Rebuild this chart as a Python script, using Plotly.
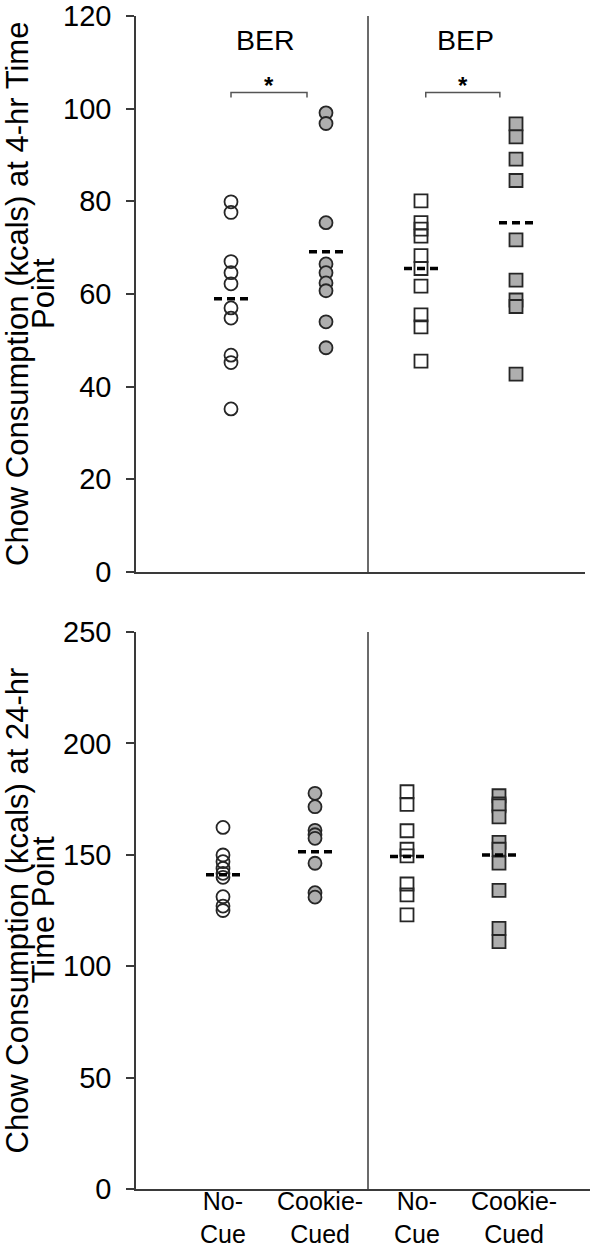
import plotly.graph_objects as go

# ---------------- data ----------------
categories = ["No-<br>Cue", "Cookie-<br>Cued", "No-<br>Cue", "Cookie-<br>Cued"]
group_labels = ["BER", "BEP"]
cat_pos = [1, 2, 3, 4]
title_4h = ["Chow Consumption (kcals) at 4-hr Time", "Point"]
title_24h = ["Chow Consumption (kcals) at 24-hr", "Time Point"]

# 4-hr time point (kcals)
ber_nocue_4h = [79.9, 77.6, 67.0, 64.6, 62.2, 57.0, 54.8, 46.8, 45.2, 35.2]
ber_cue_4h = [99.1, 96.8, 75.4, 66.5, 64.6, 62.4, 60.7, 54.0, 48.4]
bep_nocue_4h = [80.1, 75.4, 74.0, 72.5, 68.3, 65.5, 61.7, 55.5, 52.9, 45.5]
bep_cue_4h = [96.7, 93.9, 89.1, 84.5, 71.7, 63.0, 58.7, 57.3, 42.7]
means_4h = [59.0, 69.1, 65.5, 75.4]

# 24-hr time point (kcals)
ber_nocue_24h = [162.3, 149.9, 146.9, 143.9, 141.7, 139.9, 131.2, 127.0, 125.0]
ber_cue_24h = [177.6, 171.6, 161.0, 159.0, 157.4, 146.2, 133.0, 131.0]
bep_nocue_24h = [178.3, 172.6, 160.8, 152.5, 149.5, 136.9, 132.0, 123.0]
bep_cue_24h = [176.5, 172.8, 172.0, 167.0, 155.6, 152.5, 146.3, 134.0, 117.0, 111.0]
means_24h = [141.0, 151.4, 149.2, 149.9]

# significance brackets (4-hr panel)
sig_pairs = [(1.0, 1.8), (3.05, 3.83)]
sig_level = 103.5
sig_tick = 1.1

# ---------------- style / geometry (pixels) ----------------
W, H = 613, 1251
ML, MR, MT, MB = 136, 23, 16, 62
FONT = "Liberation Sans, Arial, sans-serif"
AX = "#3a3a3a"
WHITE = "rgba(255,255,255,0)"
GRAY = "rgb(174,174,174)"
EDGE = "#262626"

plot_w = W - ML - MR
plot_h = H - MT - MB
y_top0, y_bot0, y_bot250 = 572, 1189, 632
top_dom = [(y_bot0 - y_top0) / plot_h, 1.0]
bot_dom = [0.0, (y_bot0 - y_bot250) / plot_h]

top_end_px = 585
top_xdom = [0, (top_end_px - ML) / plot_w]
x_top = [0.0, (top_end_px - ML) / 95]
x_bot = [(ML - 131) / 92, (ML + plot_w - 131) / 92]
x_lab = [(ML - 126) / 97, (ML + plot_w - 126) / 97]
top_ppu = 95
bot_ppu = 92
dash_half_px = 17

fig = go.Figure()

series_4h = [ber_nocue_4h, ber_cue_4h, bep_nocue_4h, bep_cue_4h]
series_24h = [ber_nocue_24h, ber_cue_24h, bep_nocue_24h, bep_cue_24h]
symbols = ["circle", "circle", "square", "square"]
fills = [WHITE, GRAY, WHITE, GRAY]


def add_panel(series, means, xa, ya, ppu):
    for pos, vals, sym, fc in zip(cat_pos, series, symbols, fills):
        fig.add_trace(go.Scatter(
            x=[pos] * len(vals), y=vals, mode="markers", xaxis=xa, yaxis=ya,
            marker=dict(symbol=sym, size=13, color=fc,
                        line=dict(color=EDGE, width=1.8)),
            showlegend=False, hoverinfo="y"))
    half = dash_half_px / ppu
    for pos, m in zip(cat_pos, means):
        fig.add_trace(go.Scatter(
            x=[pos - half, pos + half], y=[m, m], mode="lines",
            xaxis=xa, yaxis=ya,
            line=dict(color="black", width=3.5, dash="8px,5px"),
            showlegend=False, hoverinfo="skip"))


add_panel(series_4h, means_4h, "x", "y", top_ppu)
add_panel(series_24h, means_24h, "x2", "y2", bot_ppu)

# significance brackets
for a, b in sig_pairs:
    fig.add_trace(go.Scatter(
        x=[a, a, b, b], y=[sig_level - sig_tick, sig_level, sig_level, sig_level - sig_tick],
        mode="lines", xaxis="x", yaxis="y",
        line=dict(color="#555", width=1.5), showlegend=False, hoverinfo="skip"))
    fig.add_annotation(x=(a + b) / 2, y=sig_level, xref="x", yref="y",
                       text="<b>*</b>", showarrow=False, yanchor="bottom",
                       font=dict(family=FONT, size=24, color="black"), yshift=-9)

# group labels
for gx, g in zip([1.36, 3.47], group_labels):
    fig.add_annotation(x=gx, y=114.8, xref="x", yref="y", text=g, showarrow=False,
                       font=dict(family=FONT, size=28.5, color="black"))

# invisible trace defining the category-label axis
fig.add_trace(go.Scatter(x=cat_pos, y=[0] * 4, xaxis="x3", yaxis="y2", mode="markers",
                         marker=dict(opacity=0), showlegend=False, hoverinfo="skip"))

# category labels (two lines each)
for pos, lab in zip(cat_pos, categories):
    fig.add_annotation(x=pos, y=0, xref="x3", yref="y2 domain", text=lab,
                       showarrow=False, yanchor="bottom", yshift=-(H - 1 - y_bot0),
                       font=dict(family=FONT, size=25, color="black"))

# y-axis titles (two tight lines each, rotated)
for lines, yref in ((title_4h, "y domain"), (title_24h, "y2 domain")):
    for txt, cx in zip(lines, (17, 43)):
        fig.add_annotation(x=(cx - ML) / plot_w, y=0.5, xref="paper", yref=yref,
                           text=txt, textangle=-90, showarrow=False,
                           xanchor="center", yanchor="middle",
                           font=dict(family=FONT, size=31, color="black"))

# group dividers
div_x = (368 - ML) / plot_w
for yr in ["y domain", "y2 domain"]:
    fig.add_shape(type="line", xref="paper", yref=yr, x0=div_x, x1=div_x, y0=0, y1=1,
                  line=dict(color=AX, width=1.5))

common_y = dict(showline=True, linecolor=AX, linewidth=1.5, ticks="outside",
                ticklen=8, tickcolor=AX, tickwidth=1.5, showgrid=False, zeroline=False,
                automargin=False, ticklabelstandoff=9,
                tickfont=dict(family=FONT, size=29, color="black"))
common_x = dict(showline=True, linecolor=AX, linewidth=1.5, ticks="", showgrid=False,
                zeroline=False, showticklabels=False, automargin=False)

fig.update_layout(
    width=W, height=H, margin=dict(l=ML, r=MR, t=MT, b=MB),
    paper_bgcolor="white", plot_bgcolor="white",
    font=dict(family=FONT, color="black"),
    xaxis=dict(domain=top_xdom, anchor="y", range=x_top, **common_x),
    yaxis=dict(domain=top_dom, anchor="x", range=[0, 120], dtick=20, **common_y),
    xaxis2=dict(domain=[0, 1], anchor="y2", range=x_bot, **common_x),
    xaxis3=dict(domain=[0, 1], anchor="y2", overlaying="x2", range=x_lab,
                showticklabels=False, ticks="", showline=False,
                showgrid=False, zeroline=False, automargin=False),
    yaxis2=dict(domain=bot_dom, anchor="x2", range=[0, 250], dtick=50, **common_y),
)

# remove the browser's default 8px page margin so the figure fills the window
fig.write_html("out.html", config={"displayModeBar": False},
               post_script="document.body.style.margin='0px';")
